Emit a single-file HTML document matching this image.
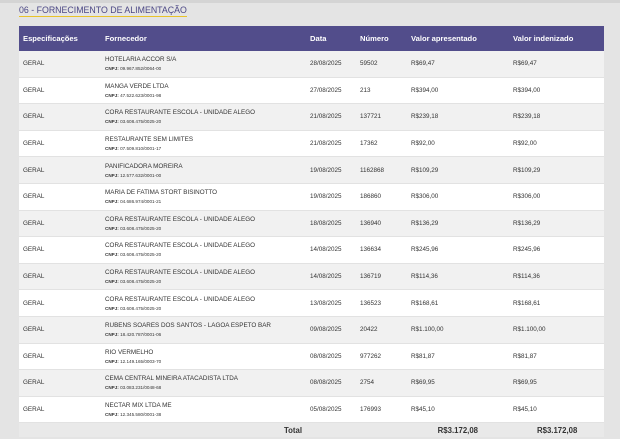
<!DOCTYPE html><html><head><meta charset="utf-8"><style>
body{margin:0;width:620px;height:439px;background:#e4e4e4;font-family:"Liberation Sans",sans-serif;position:relative;overflow:hidden;color:#333}
.top{position:absolute;left:0;top:0;width:620px;height:3px;background:#d4d4d4}
.title{position:absolute;left:19px;top:5px;font-size:8.8px;color:#4b4785;border-bottom:1.5px solid #e8c22a;padding-bottom:1px}
table{position:absolute;left:19px;top:26px;width:585px;border-collapse:collapse;font-size:6.3px}
th{background:#524d8b;color:#fff;font-size:7.6px;font-weight:bold;text-align:left;height:25px;padding:0}
td{height:25.6px;padding:0;border-bottom:1px solid #e2e2e2;vertical-align:middle}
tr:nth-child(odd) td{background:#f1f1f1}
tr:nth-child(even) td{background:#fff}
.c{font-size:4.6px;margin-top:3px}
.tot td{background:#e9e9e9!important;height:14px;font-weight:bold;font-size:7.8px;border:none}
</style></head><body>
<div class="top"></div>
<div class="title">06 - FORNECIMENTO DE ALIMENTAÇÃO</div>
<table>
<colgroup><col style="width:86px"><col style="width:205px"><col style="width:50px"><col style="width:51px"><col style="width:102px"><col></colgroup>
<thead><tr><th style="padding-left:4px">Especificações</th><th>Fornecedor</th><th>Data</th><th>Número</th><th>Valor apresentado</th><th>Valor indenizado</th></tr></thead>
<tbody>
<tr><td style="padding-left:4px">GERAL</td><td>HOTELARIA ACCOR S/A<div class="c"><b>CNPJ:</b> 09.967.852/0064-00</div></td><td>28/08/2025</td><td>59502</td><td>R$69,47</td><td>R$69,47</td></tr>
<tr><td style="padding-left:4px">GERAL</td><td>MANGA VERDE LTDA<div class="c"><b>CNPJ:</b> 47.522.623/0001-98</div></td><td>27/08/2025</td><td>213</td><td>R$394,00</td><td>R$394,00</td></tr>
<tr><td style="padding-left:4px">GERAL</td><td>CORA RESTAURANTE ESCOLA - UNIDADE ALEGO<div class="c"><b>CNPJ:</b> 03.608.475/0025-20</div></td><td>21/08/2025</td><td>137721</td><td>R$239,18</td><td>R$239,18</td></tr>
<tr><td style="padding-left:4px">GERAL</td><td>RESTAURANTE SEM LIMITES<div class="c"><b>CNPJ:</b> 07.509.810/0001-17</div></td><td>21/08/2025</td><td>17362</td><td>R$92,00</td><td>R$92,00</td></tr>
<tr><td style="padding-left:4px">GERAL</td><td>PANIFICADORA MOREIRA<div class="c"><b>CNPJ:</b> 12.577.632/0001-00</div></td><td>19/08/2025</td><td>1162868</td><td>R$109,29</td><td>R$109,29</td></tr>
<tr><td style="padding-left:4px">GERAL</td><td>MARIA DE FATIMA STORT BISINOTTO<div class="c"><b>CNPJ:</b> 04.686.974/0001-21</div></td><td>19/08/2025</td><td>186860</td><td>R$306,00</td><td>R$306,00</td></tr>
<tr><td style="padding-left:4px">GERAL</td><td>CORA RESTAURANTE ESCOLA - UNIDADE ALEGO<div class="c"><b>CNPJ:</b> 03.608.475/0025-20</div></td><td>18/08/2025</td><td>136940</td><td>R$136,29</td><td>R$136,29</td></tr>
<tr><td style="padding-left:4px">GERAL</td><td>CORA RESTAURANTE ESCOLA - UNIDADE ALEGO<div class="c"><b>CNPJ:</b> 03.608.475/0025-20</div></td><td>14/08/2025</td><td>136634</td><td>R$245,96</td><td>R$245,96</td></tr>
<tr><td style="padding-left:4px">GERAL</td><td>CORA RESTAURANTE ESCOLA - UNIDADE ALEGO<div class="c"><b>CNPJ:</b> 03.608.475/0025-20</div></td><td>14/08/2025</td><td>136719</td><td>R$114,36</td><td>R$114,36</td></tr>
<tr><td style="padding-left:4px">GERAL</td><td>CORA RESTAURANTE ESCOLA - UNIDADE ALEGO<div class="c"><b>CNPJ:</b> 03.608.475/0025-20</div></td><td>13/08/2025</td><td>136523</td><td>R$168,61</td><td>R$168,61</td></tr>
<tr><td style="padding-left:4px">GERAL</td><td>RUBENS SOARES DOS SANTOS - LAGOA ESPETO BAR<div class="c"><b>CNPJ:</b> 18.420.787/0001-06</div></td><td>09/08/2025</td><td>20422</td><td>R$1.100,00</td><td>R$1.100,00</td></tr>
<tr><td style="padding-left:4px">GERAL</td><td>RIO VERMELHO<div class="c"><b>CNPJ:</b> 12.149.165/0003-70</div></td><td>08/08/2025</td><td>977262</td><td>R$81,87</td><td>R$81,87</td></tr>
<tr><td style="padding-left:4px">GERAL</td><td>CEMA CENTRAL MINEIRA ATACADISTA LTDA<div class="c"><b>CNPJ:</b> 03.083.231/0048-68</div></td><td>08/08/2025</td><td>2754</td><td>R$69,95</td><td>R$69,95</td></tr>
<tr><td style="padding-left:4px">GERAL</td><td>NECTAR MIX LTDA ME<div class="c"><b>CNPJ:</b> 12.345.580/0001-38</div></td><td>05/08/2025</td><td>176993</td><td>R$45,10</td><td>R$45,10</td></tr>
<tr class="tot"><td></td><td style="text-align:right;padding-right:8px">Total</td><td></td><td></td><td style="text-align:right;padding-right:35px">R$3.172,08</td><td style="padding-left:24px">R$3.172,08</td></tr>
</tbody></table>
</body></html>
